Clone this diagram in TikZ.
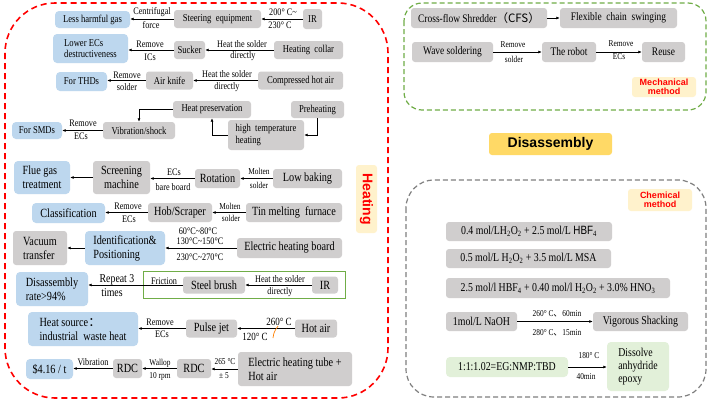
\documentclass[tikz,border=0pt]{standalone}
\usepackage{fontspec}
\setmainfont{Liberation Serif}[FakeStretch=0.82]
\setsansfont{Liberation Sans}[FakeStretch=0.82]
\newfontfamily\hsans{Liberation Sans}
\newfontfamily\cjk{Noto Sans CJK SC}
\usetikzlibrary{arrows.meta}
\definecolor{boxgray}{HTML}{D0CECE}
\definecolor{boxblue}{HTML}{BDD7EE}
\definecolor{boxgreen}{HTML}{E2F0D9}
\definecolor{lightyel}{HTML}{FFF2CC}
\definecolor{yel}{HTML}{FFD966}
\definecolor{mgreen}{HTML}{70AD47}
\definecolor{dgray}{HTML}{7F7F7F}
\begin{document}
\begin{tikzpicture}[x=1pt,y=-1pt,
 base/.style={inner sep=1pt, align=center, font=\fontsize{10.5}{11.5}\selectfont},
 gb/.style={base, fill=boxgray, rounded corners=3pt},
 bb/.style={base, fill=boxblue, rounded corners=4pt},
 grb/.style={base, fill=boxgreen, rounded corners=4pt},
 sz/.style 2 args={minimum width=#1, minimum height=#2},
 big/.style={font=\fontsize{12.5}{14}\selectfont},
 rbig/.style={font=\fontsize{11.5}{13}\selectfont},
 chem/.style={font=\fontsize{12}{13}\selectfont},
 lab/.style={inner sep=0pt, font=\fontsize{10}{11}\selectfont},
 slab/.style={inner sep=0pt, font=\fontsize{9}{10}\selectfont},
 blab/.style={inner sep=0pt, font=\fontsize{12}{13}\selectfont},
 arr/.style={-{Latex[length=3.5pt,width=3pt]}, line width=0.8pt},
 hd/.style={font=\hsans\bfseries\color{red}},
]
\useasboundingbox (0,0) rectangle (709,402);
\fill[white] (0,0) rectangle (709,402);

% ---------- frames ----------
\draw[red, line width=1.6pt, dash pattern=on 6pt off 4pt, rounded corners=50pt] (5,3) rectangle (388,398);
\draw[mgreen, line width=1.2pt, dash pattern=on 5pt off 3pt, rounded corners=18pt] (404,3) rectangle (706,110);
\draw[dgray, line width=1.2pt, dash pattern=on 5pt off 3pt, rounded corners=28pt] (406,180) rectangle (706,397);
\draw[mgreen, line width=1pt] (143,271) rectangle (345,298);

% ---------- headings ----------
\node[fill=lightyel, rounded corners=3pt, sz={21}{68}, inner sep=0pt] (heat) at (366.5,199)
  {\rotatebox{-90}{\hsans\bfseries\color{red}\fontsize{14}{15}\selectfont Heating}};
\node[fill=yel, rounded corners=3pt, sz={123}{22}, inner sep=0pt, hd, font=\hsans\bfseries\fontsize{14}{15}\selectfont] (dis) at (550.5,144) {Disassembly};
\node[fill=lightyel, rounded corners=3pt, sz={64}{20}, inner sep=0pt, align=center, text=red, font=\hsans\bfseries\fontsize{9}{9.5}\selectfont] (mech) at (664,87) {Mechanical\\method};
\node[fill=lightyel, rounded corners=3pt, sz={64}{22}, inner sep=0pt, align=center, text=red, font=\hsans\bfseries\fontsize{9}{9.5}\selectfont] (chemh) at (660,200) {Chemical\\method};

% ---------- row 1 ----------
\node[bb, sz={75}{17}] (n1) at (92.5,19.5) {Less harmful gas};
\node[gb, sz={87}{18}] (n2) at (217.5,19) {Steering\ \ equipment};
\node[gb, sz={19}{20}] (n3) at (312.5,19) {IR};
\draw[arr] (n3.west) -- (n3.west -| n2.east);
\draw[arr] (n2.west) -- (n2.west -| n1.east);
\node[lab] (t1) at (283,12) {200° C\textasciitilde};
\node[lab] (t2) at (280,25.5) {230° C};
\node[lab] (t3) at (152,12.5) {Centrifugal};
\node[lab] (t4) at (151,25.5) {force};

% ---------- row 2 ----------
\node[bb, sz={75}{29}, align=left] (n4) at (90.5,48.5) {Lower ECs\\destructiveness};
\node[gb, sz={31}{18}] (n5) at (189.5,50) {Sucker};
\node[gb, sz={69}{18}] (n6) at (308.5,50) {Heating\ \ collar};
\draw[arr] (n6.west) -- (n6.west -| n5.east);
\draw[arr] (n5.west) -- (n5.west -| n4.east);
\node[lab] (t5) at (242,44) {Heat the solder};
\node[lab] (t6) at (243,56) {directly};
\node[lab] (t7) at (150,44.5) {Remove};
\node[lab] (t8) at (150,57) {ICs};

% ---------- row 3 ----------
\node[bb, sz={51}{19}] (n7) at (81.5,81.5) {For THDs};
\node[gb, sz={47}{18}] (n8) at (169.5,80.5) {Air knife};
\node[gb, sz={85}{18}] (n9) at (300.5,80.5) {Compressed hot air};
\draw[arr] (n9.west) -- (n9.west -| n8.east);
\draw[arr] (n8.west) -- (n8.west -| n7.east);
\node[lab] (t9) at (227,74) {Heat the solder};
\node[lab] (t10) at (227,87) {directly};
\node[lab] (t11) at (127,75) {Remove};
\node[lab] (t12) at (127,87) {solder};

% ---------- row 4 ----------
\node[gb, sz={78}{17}] (n10) at (212,109.5) {Heat preservation};
\node[gb, sz={53}{17}] (n11) at (317.5,109.5) {Preheating};
\node[gb, sz={76}{30}, align=left] (n12) at (266,135) {high\ \ temperature\\heating};
\node[gb, sz={72}{17}] (n13) at (139,130.5) {Vibration/shock};
\node[bb, sz={50}{17}] (n14) at (37,130.5) {For SMDs};
\draw[arr] (n11.south) |- (n12.east);
\draw[arr] (n12.west) -| (n10.south);
\draw[arr] (n10.west) -| (n13.north);
\draw[arr] (n13.west) -- (n13.west -| n14.east);
\node[lab] (t13) at (83,123.5) {Remove};
\node[lab] (t14) at (81,136) {ECs};

% ---------- row 5 ----------
\node[bb, big, sz={56}{33}, align=left] (n15) at (42,177.5) {Flue gas\\treatment};
\node[gb, big, sz={57}{33}] (n16) at (121.5,177.5) {Screening\\machine};
\node[gb, big, sz={45}{19}] (n17) at (217.5,178.5) {Rotation};
\node[gb, big, sz={69}{19}] (n18) at (307.5,178.5) {Low baking};
\draw[arr] (n18.west) -- (n18.west -| n17.east);
\draw[arr] (n17.west) -- (n17.west -| n16.east);
\draw[arr] (n16.west) -- (n16.west -| n15.east);
\node[slab] (t15) at (259,171.5) {Molten};
\node[slab] (t16) at (259,185) {solder};
\node[lab] (t17) at (174,172) {ECs};
\node[lab] (t18) at (173,187) {bare board};

% ---------- row 6 ----------
\node[bb, big, sz={73}{20}] (n19) at (68.5,213) {Classification};
\node[gb, big, sz={64}{19}] (n20) at (180,212.5) {Hob/Scraper};
\node[gb, big, sz={96}{19}] (n21) at (294,212.5) {Tin melting\ \ furnace};
\draw[arr] (n21.west) -- (n21.west -| n20.east);
\draw[arr] (n20.west) -- (n20.west -| n19.east);
\node[slab] (t19) at (230,206) {Molten};
\node[slab] (t20) at (231,218.5) {solder};
\node[lab] (t21) at (128,206.5) {Remove};
\node[lab] (t22) at (129,219) {ECs};

% ---------- row 7 ----------
\node[gb, big, sz={54}{34}, align=left] (n22) at (40,248) {Vacuum\\transfer};
\node[bb, big, sz={80}{34}, align=left] (n23) at (125,248) {Identification\&\\Positioning};
\node[gb, big, sz={105}{20}] (n24) at (289.5,248) {Electric heating board};
\draw[arr] (n24.west) -- (n24.west -| n23.east);
\draw[arr] (n23.west) -- (n23.west -| n22.east);
\node[lab] (t23) at (198,231) {60°C\textasciitilde 80°C};
\node[lab] (t24) at (200,241.5) {130°C\textasciitilde 150°C};
\node[lab] (t25) at (200,257) {230°C\textasciitilde 270°C};

% ---------- row 8 ----------
\node[bb, big, sz={72}{34}, align=left] (n25) at (52,289) {Disassembly\\rate>94\%};
\node[gb, big, sz={62}{17}] (n26) at (214,285) {Steel brush};
\node[gb, big, sz={26}{17}] (n27) at (325,285) {IR};
\draw[arr] (n27.west) -- (n27.west -| n26.east);
\draw[arr] (n26.west) -- (n26.west -| n25.east);
\node[lab] (t26) at (280,279) {Heat the solder};
\node[lab] (t27) at (280,292) {directly};
\node[lab] (t28) at (164,281) {Friction};
\node[blab] (t29) at (117,280) {Repeat 3};
\node[blab] (t30) at (112,293) {times};

% ---------- row 9 ----------
\node[bb, big, sz={110}{34}, align=left] (n28) at (83,329) {Heat source\cjk{：}\\industrial\ \ waste heat};
\node[gb, big, sz={51}{18}] (n29) at (211.5,328.5) {Pulse jet};
\node[gb, big, sz={42}{18}] (n30) at (316,328.5) {Hot air};
\draw[arr] (n30.west) -- (n30.west -| n29.east);
\draw[arr] (n29.west) -- (n29.west -| n28.east);
\draw[orange, line width=0.7pt] (273,338) .. controls (274,332) .. (278,326);
\node[lab, font=\fontsize{11}{12}\selectfont] (t31) at (279,322) {260° C};
\node[lab, font=\fontsize{11}{12}\selectfont] (t32) at (255,337) {120° C};
\node[lab] (t33) at (160,322) {Remove};
\node[lab] (t34) at (162,334) {ECs};

% ---------- row 10 ----------
\node[bb, big, sz={47}{20}] (n31) at (49.5,369) {\$4.16 / t};
\node[gb, big, sz={29}{19}] (n32) at (127.5,368.5) {RDC};
\node[gb, big, sz={34}{19}] (n33) at (194,368.5) {RDC};
\node[gb, big, sz={114}{34}, align=left] (n34) at (295,369) {Electric heating tube +\\Hot air};
\draw[arr] (n34.west) -- (n34.west -| n33.east);
\draw[arr] (n33.west) -- (n33.west -| n32.east);
\draw[arr] (n32.west) -- (n32.west -| n31.east);
\node[lab] (t35) at (93,362) {Vibration};
\node[slab] (t36) at (160,363) {Wallop};
\node[slab] (t37) at (160,376) {10 rpm};
\node[slab] (t38) at (225,362) {265 °C};
\node[slab] (t39) at (224,376) {± 5};

% ---------- mechanical ----------
\node[gb, rbig, sz={136}{20}] (m1) at (479,18) {Cross-flow Shredder\cjk{（}CFS\cjk{）}};
\node[gb, rbig, sz={117}{20}] (m2) at (618.5,18) {Flexible\ \ chain\ \ swinging};
\node[gb, rbig, sz={81}{20}] (m3) at (452.5,52) {Wave soldering};
\node[gb, rbig, sz={54}{20}] (m4) at (569,52) {The robot};
\node[gb, rbig, sz={43}{20}] (m5) at (663.5,52) {Reuse};
\draw[arr] (m1.east) -- (m1.east -| m2.west);
\draw[arr] (m3.east) -- (m3.east -| m4.west);
\draw[arr] (m4.east) -- (m4.east -| m5.west);
\node[slab] (t40) at (513,45) {Remove};
\node[slab] (t41) at (514,59) {solder};
\node[slab] (t42) at (621,44) {Remove};
\node[slab] (t43) at (619,57) {ECs};

% ---------- chemical ----------
\node[gb, chem, sz={166}{19}] (c1) at (529,231.5) {0.4 mol/LH\textsubscript{2}O\textsubscript{2} + 2.5 mol/L {\sffamily HBF}\textsubscript{4}};
\node[gb, chem, sz={165}{19}] (c2) at (528.5,258.5) {0.5 mol/L H\textsubscript{2}O\textsubscript{2} + 3.5 mol/L MSA};
\node[gb, chem, sz={224}{20}] (c3) at (558,288) {2.5 mol/l HBF\textsubscript{4} + 0.40 mol/l H\textsubscript{2}O\textsubscript{2} + 3.0\% HNO\textsubscript{3}};
\node[gb, chem, sz={71}{19}] (c4) at (481.5,321.5) {1mol/L NaOH};
\node[gb, chem, sz={95}{19}] (c5) at (640.5,321.5) {Vigorous Shacking};
\node[grb, chem, sz={122}{20}] (c6) at (507,367) {1:1:1.02=EG:NMP:TBD};
\node[grb, chem, sz={62}{49}, align=left] (c7) at (638,366.5) {Dissolve\\anhydride\\epoxy};
\draw[arr] (c4.east) -- (c4.east -| c5.west);
\draw[arr] (c6.east) -- (c6.east -| c7.west);
\node[slab] (t44) at (557,314) {260° C\hbox{\cjk 、}\hbox{60min}};
\node[slab] (t45) at (557,333) {280° C\hbox{\cjk 、}\hbox{15min}};
\node[slab] (t46) at (589,356) {180° C};
\node[slab] (t47) at (586,377) {40min};
\end{tikzpicture}
\end{document}
